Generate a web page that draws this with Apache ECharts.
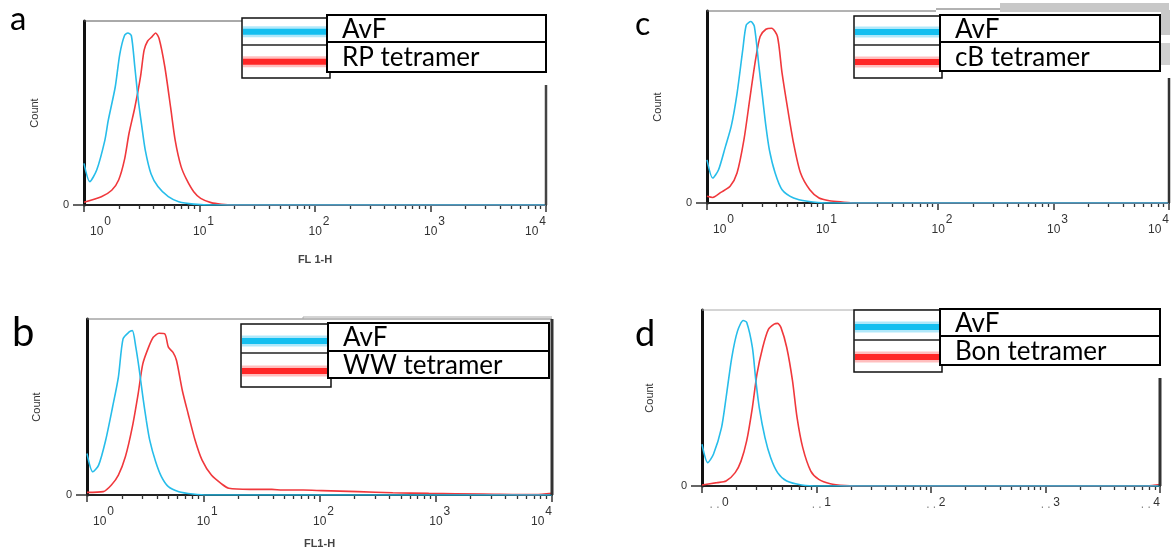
<!DOCTYPE html>
<html><head><meta charset="utf-8">
<script src="https://cdn.jsdelivr.net/npm/echarts@6/dist/echarts.min.js"></script>
<style>html,body{margin:0;padding:0;background:#fff}#c{width:1172px;height:549px}</style>
</head><body><div id="c"></div>
<script>
// ---------- data ----------
const panelLetters = ['a', 'b', 'c', 'd'];
const legendNames = [['AvF', 'RP tetramer'], ['AvF', 'WW tetramer'], ['AvF', 'cB tetramer'], ['AvF', 'Bon tetramer']];
const yAxisName = 'Count';
const xAxisNames = ['FL 1-H', 'FL1-H', '', ''];
const tickBase = '10';
const tickBaseFaded = '. .';
const tickExponents = ['0', '1', '2', '3', '4'];
const tickValues = [0, 1, 2, 3, 4];          // decades (log10 of FL1-H)
const minorMultipliers = [2, 3, 4, 5, 6, 7, 8, 9];
const zeroLabel = '0';

// [decade (log10 FL1-H), count in % of panel height]
const avfA = [[0,22.6],[0.05,12.7],[0.11,19],[0.18,35],[0.21,46],[0.27,64],[0.31,82],[0.35,92],[0.38,93.5],[0.41,92],[0.44,75],[0.47,57],[0.5,43],[0.53,30],[0.58,17],[0.64,10],[0.73,4.5],[0.82,1.8],[0.95,0.5],[1.13,0],[4,0]];
const rpA  = [[0,1.5],[0.15,4.5],[0.24,8],[0.3,13.6],[0.35,24.5],[0.39,39],[0.44,53],[0.49,70],[0.52,84],[0.55,89],[0.59,91.5],[0.62,93.5],[0.65,90.5],[0.7,75],[0.75,53],[0.79,35],[0.84,21],[0.89,13.6],[0.95,7.2],[1.01,3.6],[1.1,1.3],[1.19,0.4],[1.29,0],[4,0]];
const avfB = [[0,23.6],[0.05,13.2],[0.1,17],[0.16,31],[0.22,50],[0.27,67],[0.31,88.7],[0.36,92.5],[0.39,93.4],[0.42,84],[0.45,71],[0.48,56],[0.51,42.5],[0.54,31],[0.59,19],[0.64,10.4],[0.7,4.7],[0.79,1.9],[0.91,0.6],[1.04,0],[4,0]];
const wwB  = [[0,1.5],[0.14,1.9],[0.21,5.7],[0.27,11.3],[0.33,21.7],[0.39,38.7],[0.44,57.5],[0.48,74.5],[0.53,84],[0.57,89.6],[0.62,91.9],[0.67,91.5],[0.7,84],[0.74,81],[0.77,76.4],[0.82,59.4],[0.87,46.2],[0.93,31.1],[0.99,19.8],[1.07,11.3],[1.16,6.2],[1.22,3.8],[1.4,3.2],[1.59,3.2],[1.68,2.8],[1.86,2.8],[2.02,2.5],[2.33,1.9],[2.63,1.3],[2.94,0.9],[3.4,0.6],[3.86,0.2],[4,0.9]];
const avfC = [[0,22.5],[0.05,13],[0.1,17.3],[0.16,29.5],[0.21,40],[0.26,57],[0.31,80],[0.34,92.7],[0.38,94.5],[0.41,92],[0.45,71],[0.48,55.5],[0.51,40],[0.54,27.7],[0.59,15.6],[0.65,6.9],[0.75,2.6],[0.87,0.9],[1.03,0],[4,0]];
const cbC  = [[0,3.5],[0.05,2.9],[0.12,5.5],[0.2,8.7],[0.26,15.6],[0.32,33],[0.37,54],[0.42,74.5],[0.46,86.7],[0.51,90.5],[0.56,91],[0.61,86.7],[0.65,67.6],[0.7,48.5],[0.75,31],[0.81,15.6],[0.89,6.9],[0.97,2.6],[1.06,1.2],[1.17,0.5],[1.28,0],[4,0]];
const avfD = [[0,23.7],[0.05,13.3],[0.1,18],[0.17,33],[0.21,50],[0.26,73],[0.31,88],[0.36,94],[0.39,93],[0.44,78.7],[0.47,60],[0.5,44.6],[0.55,27.5],[0.6,16],[0.66,7.6],[0.74,2.8],[0.87,0.6],[1.02,0],[4,0]];
const bonD = [[0,0.6],[0.13,1.9],[0.21,2.8],[0.29,7.6],[0.34,14],[0.39,25.6],[0.44,44.6],[0.48,63.6],[0.53,78.7],[0.58,89],[0.63,92],[0.66,92.4],[0.69,90],[0.74,78.7],[0.79,60],[0.83,39],[0.88,21.8],[0.95,8.5],[1.02,3.8],[1.12,1.3],[1.25,0.2],[1.34,0],[3.89,0],[4,0.8]];

const blueSeries = [avfA, avfB, avfC, avfD];
const redSeries  = [rpA, wwB, cbC, bonD];

// ---------- layout ----------
const BLUE = '#27bdea', RED = '#f0383c';
const grids = [
  {left: 84,  top: 21,  width: 462, height: 184},
  {left: 87,  top: 319, width: 465, height: 176},
  {left: 707, top: 11,  width: 462, height: 192},
  {left: 702, top: 310, width: 458, height: 176}
];
const legendBoxes = [
  {bx: 242, by: 18,  bw: 88, bh: 60, div: 45,  tx: 327, tw: 219, rows: [15, 42, 72],    blue: 31.7, red: 61.7},
  {bx: 241, by: 324, bw: 90, bh: 63, div: 353, tx: 328, tw: 221, rows: [323, 351, 378], blue: 341,  red: 371},
  {bx: 854, by: 16,  bw: 88, bh: 62, div: 45,  tx: 940, tw: 220, rows: [15, 42, 71],    blue: 32,   red: 62},
  {bx: 854, by: 310, bw: 88, bh: 62, div: 340, tx: 940, tw: 220, rows: [309, 336, 365], blue: 327,  red: 357}
];
const letterStyle = [
  {x: 10, y: 19, size: 33}, {x: 12, y: 333, size: 40}, {x: 635, y: 25, size: 32}, {x: 635, y: 334, size: 36}
];
const yNameGap = [44, 45, 44, 47];
const xNameGap = [49, 43, 40, 40];

const minorTicks = [];
tickValues.slice(0, -1).forEach(d => minorMultipliers.forEach(m => minorTicks.push(d + Math.log10(m))));

const labelFont = 'Liberation Sans, Arial, sans-serif';
const rich = {
  b:  {fontSize: 12, fontFamily: labelFont, color: '#333', lineHeight: 13, padding: [10, 0, 0, 8]},
  b0: {fontSize: 12, fontFamily: labelFont, color: '#333', lineHeight: 13, padding: [10, 0, 0, 6]},
  g:  {fontSize: 12, fontFamily: labelFont, color: '#888', lineHeight: 13, width: 13, align: 'center', padding: [0, 0, 5, 8]},
  g0: {fontSize: 12, fontFamily: labelFont, color: '#888', lineHeight: 13, width: 13, align: 'center', padding: [0, 0, 5, 6]},
  s:  {fontSize: 12, fontFamily: labelFont, color: '#333', lineHeight: 13, padding: [0, 0, 10, 1]}
};

const xAxes = [], yAxes = [], series = [];
grids.forEach((g, i) => {
  xAxes.push({
    gridIndex: i, type: 'value', min: 0, max: 4, interval: 1,
    axisLine: {show: true, onZero: false, lineStyle: {color: '#222', width: 2}},
    axisTick: {show: true, length: 7, lineStyle: {color: '#333', width: 1.5}},
    splitLine: {show: false},
    axisLabel: {
      show: true, margin: 15, alignMinLabel: 'left', alignMaxLabel: 'right',
      formatter: v => {
        const k = tickValues.indexOf(Math.round(v));
        const e = tickExponents[k];
        const base = i === 3 ? (k === 0 ? 'g0' : 'g') : (k === 0 ? 'b0' : 'b');
        const txt = i === 3 ? tickBaseFaded : tickBase;
        return '{' + base + '|' + txt + '}{s|' + e + '}';
      },
      rich: rich
    },
    name: xAxisNames[i], nameLocation: 'middle', nameGap: xNameGap[i],
    nameTextStyle: {fontSize: 11, fontFamily: labelFont, fontWeight: 'bold', color: '#444'}
  });
  xAxes.push({
    gridIndex: i, type: 'value', min: 0, max: 4, position: 'bottom',
    axisLine: {show: false},
    axisTick: {show: true, length: 4, customValues: minorTicks, lineStyle: {color: '#333', width: 1.3}},
    axisLabel: {show: false}, splitLine: {show: false}
  });
  yAxes.push({
    gridIndex: i, type: 'value', min: 0, max: 100, interval: 100,
    axisLine: {show: true, onZero: false, lineStyle: {color: '#111', width: 3}},
    axisTick: {show: true, length: 11, customValues: [0], lineStyle: {color: '#333', width: 1.5}},
    axisLabel: {show: true, customValues: [0], formatter: () => zeroLabel, margin: 15, fontSize: 11, fontFamily: labelFont, color: '#333'},
    splitLine: {show: false},
    name: yAxisName, nameLocation: 'middle', nameRotate: 90, nameGap: yNameGap[i],
    nameTextStyle: {fontSize: 11, fontFamily: labelFont, color: '#333'}
  });
  series.push({
    type: 'line', name: legendNames[i][1], xAxisIndex: 2 * i, yAxisIndex: i, data: redSeries[i],
    showSymbol: false, smooth: 0.25, lineStyle: {color: RED, width: 1.6}, z: 3, silent: true
  });
  series.push({
    type: 'line', name: legendNames[i][0], xAxisIndex: 2 * i, yAxisIndex: i, data: blueSeries[i],
    showSymbol: false, smooth: 0.25, lineStyle: {color: BLUE, width: 1.6}, z: 4, silent: true
  });
});

// ---------- decorations (frames, legend tables, panel letters) ----------
const els = [];
function line(x1, y1, x2, y2, stroke, w, z) {
  els.push({type: 'line', shape: {x1, y1, x2, y2}, style: {stroke, lineWidth: w}, z: z || 50, silent: true});
}
function rect(x, y, w, h, fill, stroke, lw, z) {
  els.push({type: 'rect', shape: {x, y, width: w, height: h}, style: {fill, stroke: stroke || null, lineWidth: lw || 0}, z: z || 50, silent: true});
}
(function () {
  const a = grids[0], b = grids[1], c = grids[2], d = grids[3];
  line(a.left, a.top, legendBoxes[0].bx, a.top, '#555', 1);
  line(a.left + a.width, 85, a.left + a.width, a.top + a.height, '#444', 2.5);
  line(b.left, b.top, b.left + b.width, b.top, '#777', 1);
  line(303, b.top - 2, b.left + b.width, b.top - 2, '#aaa', 1);
  line(303, b.top - 2, 303, b.top, '#aaa', 1);
  line(b.left + b.width, b.top, b.left + b.width, b.top + b.height, '#333', 3);
  line(c.left, c.top, 936, c.top, '#666', 1);
  line(936, c.top - 2, c.left + c.width, c.top - 2, '#999', 1.5);
  rect(1000, 3, c.left + c.width - 1000, 9, '#c8c8c8');
  rect(1161, 10, 9, 25, '#c8c8c8');
  rect(1161, 43, 9, 22, '#d0d0d0');
  line(c.left + c.width, 78, c.left + c.width, c.top + c.height, '#333', 2.5);
  line(d.left, d.top, d.left + d.width, d.top, '#aaa', 1);
  line(d.left + d.width, 378, d.left + d.width, d.top + d.height, '#333', 3);
})();

legendBoxes.forEach((l, i) => {
  rect(l.bx, l.by, l.bw, l.bh, '#fff', '#111', 1.5, 100);
  line(l.bx, l.div, l.bx + l.bw, l.div, '#222', 1.5, 101);
  [[l.blue, 'rgba(30,190,240,0.35)', '#14bff0'], [l.red, 'rgba(255,40,40,0.3)', '#ff2626']].forEach(([cy, halo, core]) => {
    rect(l.bx + 1, cy - 5.5, l.bw - 2, 11, halo, null, 0, 102);
    rect(l.bx + 1, cy - 3, l.bw - 2, 6, core, null, 0, 103);
  });
  for (let r = 0; r < 2; r++) {
    rect(l.tx, l.rows[r], l.tw, l.rows[r + 1] - l.rows[r], '#fff', '#000', 2, 104);
    els.push({type: 'text', x: l.tx + 15, y: (l.rows[r] + l.rows[r + 1]) / 2 + 1, z: 105, silent: true,
      style: {text: legendNames[i][r], fontSize: 26, fontFamily: 'Lato, sans-serif', fill: '#000', align: 'left', verticalAlign: 'middle'}});
  }
});

panelLetters.forEach((t, i) => {
  const s = letterStyle[i];
  els.push({type: 'text', x: s.x, y: s.y, z: 110, silent: true,
    style: {text: t, fontSize: s.size, fontFamily: 'Lato, sans-serif', fill: '#000', align: 'left', verticalAlign: 'middle'}});
});

const chart = echarts.init(document.getElementById('c'), null, {renderer: 'canvas'});
chart.setOption({
  animation: false,
  backgroundColor: '#fff',
  grid: grids.map(g => Object.assign({containLabel: false, outerBoundsMode: 'none'}, g)),
  xAxis: xAxes,
  yAxis: yAxes,
  series: series,
  graphic: {elements: els}
});
</script>
</body></html>
